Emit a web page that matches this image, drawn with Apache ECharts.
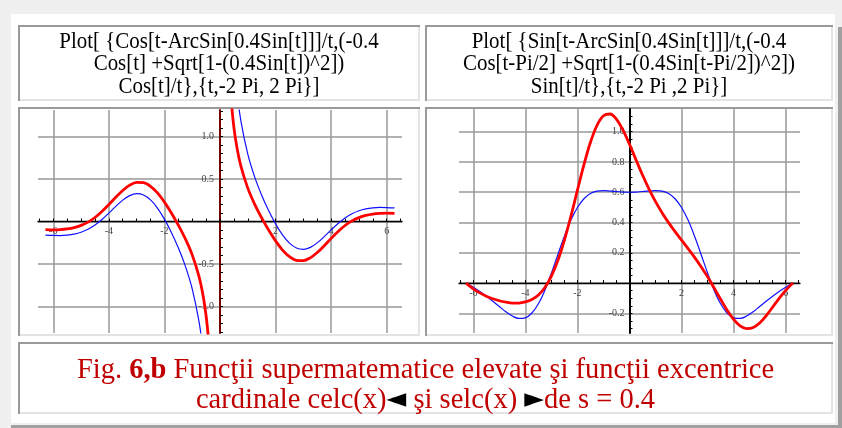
<!DOCTYPE html>
<html>
<head>
<meta charset="utf-8">
<script src="https://cdn.jsdelivr.net/npm/echarts@6/dist/echarts.min.js"></script>
<style>
html, body { margin: 0; padding: 0; background: #f0f0f0; }
#main { width: 842px; height: 428px; }
</style>
</head>
<body>
<div id="main"></div>
<script>
// celc(x) panel: t values and both curves (null at t = 0 breaks the line)
var tCelc = [-6.28, -6, -5.75, -5.5, -5.25, -5, -4.75, -4.5, -4.25, -4, -3.75, -3.5, -3.25, -3,
	-2.75, -2.5, -2.25, -2, -1.75, -1.5, -1.25, -1, -0.75, -0.6, -0.5, -0.4, 0,
	0.4, 0.5, 0.6, 0.75, 1, 1.25, 1.5, 1.75, 2, 2.25, 2.5, 2.75, 3, 3.25, 3.5, 3.75,
	4, 4.25, 4.5, 4.75, 5, 5.25, 5.5, 5.75, 6, 6.28];
var celcBlue = [-0.159, -0.164, -0.165, -0.160, -0.148, -0.126, -0.091, -0.042, 0.023, 0.099, 0.178, 0.251, 0.304, 0.327,
	0.311, 0.254, 0.158, 0.028, -0.128, -0.309, -0.522, -0.792, -1.186, -1.553, -1.907, -2.426, null,
	2.426, 1.907, 1.553, 1.186, 0.792, 0.522, 0.309, 0.128, -0.028, -0.158, -0.254, -0.311, -0.327, -0.304, -0.251, -0.178,
	-0.099, -0.023, 0.042, 0.091, 0.126, 0.148, 0.160, 0.165, 0.164, 0.159];
var celcRed = [-0.096, -0.098, -0.095, -0.087, -0.072, -0.046, -0.007, 0.047, 0.117, 0.198, 0.285, 0.365, 0.427, 0.460,
	0.456, 0.414, 0.336, 0.228, 0.101, -0.042, -0.202, -0.392, -0.653, -0.886, -1.107, -1.426, null,
	1.426, 1.107, 0.886, 0.653, 0.392, 0.202, 0.042, -0.101, -0.228, -0.336, -0.414, -0.456, -0.460, -0.427, -0.365, -0.285,
	-0.198, -0.117, -0.047, 0.007, 0.046, 0.072, 0.087, 0.095, 0.098, 0.096];

// selc(x) panel
var tSelc = [-6.28, -6, -5.75, -5.5, -5.25, -5, -4.75, -4.5, -4.25, -4, -3.75, -3.5, -3.25, -3,
	-2.75, -2.5, -2.25, -2, -1.75, -1.5, -1.25, -1, -0.75, -0.5, -0.25, 0,
	0.25, 0.5, 0.75, 1, 1.25, 1.5, 1.75, 2, 2.25, 2.5, 2.75, 3, 3.25, 3.5, 3.75,
	4, 4.25, 4.5, 4.75, 5, 5.25, 5.5, 5.75, 6, 6.28];
var selcBlue = [0.000, -0.028, -0.056, -0.087, -0.120, -0.155, -0.190, -0.218, -0.234, -0.230, -0.198, -0.137, -0.047, 0.066,
	0.189, 0.309, 0.416, 0.499, 0.557, 0.591, 0.607, 0.611, 0.608, 0.605, 0.601, 0.600,
	0.601, 0.605, 0.608, 0.611, 0.607, 0.591, 0.557, 0.499, 0.416, 0.309, 0.189, 0.066, -0.047, -0.137, -0.198,
	-0.230, -0.234, -0.218, -0.190, -0.155, -0.120, -0.087, -0.056, -0.028, 0.000];
var selcRed = [0.000, -0.038, -0.065, -0.087, -0.104, -0.117, -0.126, -0.132, -0.132, -0.125, -0.109, -0.079, -0.029, 0.046,
	0.150, 0.284, 0.442, 0.614, 0.782, 0.930, 1.041, 1.105, 1.117, 1.082, 1.010, 0.917,
	0.814, 0.714, 0.621, 0.538, 0.465, 0.399, 0.340, 0.283, 0.227, 0.170, 0.108, 0.041, -0.032, -0.107, -0.179,
	-0.240, -0.283, -0.301, -0.294, -0.264, -0.216, -0.159, -0.101, -0.048, 0.000];

// ticks and labels
var xGridVals = [-6, -4, -2, 0, 2, 4, 6];
var xLabelVals = [-6, -4, -2, 2, 4, 6];
var xTickVals = [-6.5, -6, -5.5, -5, -4.5, -4, -3.5, -3, -2.5, -2, -1.5, -1, -0.5, 0,
	0.5, 1, 1.5, 2, 2.5, 3, 3.5, 4, 4.5, 5, 5.5, 6, 6.5];
var celcYGrid = [-1, -0.5, 0, 0.5, 1];
var celcYLabels = [-1, -0.5, 0.5, 1];
var celcYTicks = [-1.3, -1.2, -1.1, -1, -0.9, -0.8, -0.7, -0.6, -0.5, -0.4, -0.3, -0.2, -0.1, 0,
	0.1, 0.2, 0.3, 0.4, 0.5, 0.6, 0.7, 0.8, 0.9, 1, 1.1, 1.2, 1.3];
var selcYGrid = [-0.2, 0, 0.2, 0.4, 0.6, 0.8, 1];
var selcYLabels = [-0.2, 0.2, 0.4, 0.6, 0.8, 1];
var selcYTicks = [-0.3, -0.25, -0.2, -0.15, -0.1, -0.05, 0, 0.05, 0.1, 0.15, 0.2, 0.25, 0.3, 0.35,
	0.4, 0.45, 0.5, 0.55, 0.6, 0.65, 0.7, 0.75, 0.8, 0.85, 0.9, 0.95, 1, 1.05, 1.1];

var titleCelc = 'Plot[ {Cos[t-ArcSin[0.4Sin[t]]]/t,(-0.4\nCos[t] +Sqrt[1-(0.4Sin[t])^2])\nCos[t]/t},{t,-2 Pi, 2 Pi}]';
var titleSelc = 'Plot[ {Sin[t-ArcSin[0.4Sin[t]]]/t,(-0.4\nCos[t-Pi/2] +Sqrt[1-(0.4Sin[t-Pi/2])^2])\nSin[t]/t},{t,-2 Pi ,2 Pi}]';

function zip(xs, ys) {
	var out = [];
	for (var i = 0; i < xs.length; i++) {
		out.push([xs[i], ys[i] === null ? '-' : ys[i]]);
	}
	return out;
}

function fmt1(v) {
	return v.toFixed(1);
}
function fmtInt(v) {
	return String(v);
}

var gridLine = { show: true, lineStyle: { color: '#999', width: 1.5 } };
var tickFont = { fontFamily: 'Liberation Serif', fontSize: 10, color: '#444' };

// axis that only draws grid lines
function gridAxis(gi, min, max, vals, pos) {
	return {
		type: 'value', gridIndex: gi, min: min, max: max, position: pos,
		axisLine: { show: false, onZero: false },
		axisTick: { show: false, customValues: vals },
		axisLabel: { show: false, customValues: vals },
		splitLine: gridLine
	};
}

// x axis drawn through y = 0 (moved there with offset)
function xMainAxis(gi, min, max, offset) {
	return {
		type: 'value', gridIndex: gi, min: min, max: max, position: 'bottom', offset: offset,
		axisLine: { show: true, onZero: false, lineStyle: { color: '#000', width: 1.3 } },
		axisTick: { show: true, inside: true, length: 3, customValues: xTickVals, lineStyle: { color: '#000', width: 1 } },
		axisLabel: Object.assign({ customValues: xLabelVals, margin: 5, formatter: fmtInt }, tickFont),
		splitLine: { show: false }
	};
}

function yMainAxis(gi, min, max, offset, ticks, labels, color, margin) {
	return {
		type: 'value', gridIndex: gi, min: min, max: max, position: 'left', offset: offset,
		axisLine: { show: true, onZero: false, lineStyle: { color: color, width: 2 } },
		axisTick: { show: true, inside: true, length: 3, customValues: ticks, lineStyle: { color: '#000', width: 1 } },
		axisLabel: Object.assign({ customValues: labels, margin: margin, formatter: fmt1 }, tickFont),
		splitLine: { show: false }
	};
}

// cell frames: dark top/left, light bottom/right
function frame(x, y, w, h) {
	var dark = '#9a9a9a', light = '#e4e4e4';
	return [
		{ type: 'rect', shape: { x: x, y: y, width: w, height: 2 }, style: { fill: dark } },
		{ type: 'rect', shape: { x: x, y: y, width: 2, height: h }, style: { fill: dark } },
		{ type: 'rect', shape: { x: x + 2, y: y + h - 2, width: w - 2, height: 2 }, style: { fill: light } },
		{ type: 'rect', shape: { x: x + w - 2, y: y + 2, width: 2, height: h - 2 }, style: { fill: light } }
	];
}

function titleText(txt, cx) {
	return {
		type: 'text', x: cx, y: 64, scaleX: 0.91,
		style: {
			text: txt, x: 0, y: 0, fill: '#000',
			font: '23px "Liberation Serif"', textAlign: 'center', textVerticalAlign: 'middle', lineHeight: 22.5
		}
	};
}

var decor = [
	{ type: 'rect', shape: { x: 0, y: 0, width: 842, height: 14 }, style: { fill: '#f0f0f0' } },
	{ type: 'rect', shape: { x: 0, y: 0, width: 11, height: 428 }, style: { fill: '#f0f0f0' } },
	{ type: 'rect', shape: { x: 835, y: 0, width: 7, height: 428 }, style: { fill: '#f0f0f0' } },
	{ type: 'rect', shape: { x: 0, y: 423, width: 842, height: 5 }, style: { fill: '#f0f0f0' } },
	{ type: 'rect', shape: { x: 838, y: 27, width: 4, height: 401 }, style: { fill: '#a0a0a0' } },
	{ type: 'rect', shape: { x: 11, y: 425, width: 831, height: 3 }, style: { fill: '#a0a0a0' } }
]
	.concat(frame(18, 25, 402, 76))
	.concat(frame(425, 25, 408, 76))
	.concat(frame(18, 107, 402, 229))
	.concat(frame(425, 107, 408, 229))
	.concat(frame(18, 342, 815, 72));

decor.push(titleText(titleCelc, 219));
decor.push(titleText(titleSelc, 629));
decor.push({
	type: 'text', x: 425.5, y: 385, scaleX: 0.95,
	style: {
		text: '{r|Fig. }{b|6,b}{r| Funcţii supermatematice elevate şi funcţii excentrice}\n' +
			'{r|cardinale celc(x)}{k|◄}{r| şi selc(x) }{k|►}{r|de s = 0.4}',
		x: 0, y: 0, textAlign: 'center', textVerticalAlign: 'middle',
		rich: {
			r: { fill: '#c00000', fontSize: 30, fontFamily: 'Liberation Serif', lineHeight: 30 },
			b: { fill: '#c00000', fontSize: 30, fontFamily: 'Liberation Serif', fontWeight: 'bold', lineHeight: 30 },
			k: { fill: '#000', fontSize: 27, fontFamily: 'DejaVu Sans', lineHeight: 30 }
		}
	}
});

var chart = echarts.init(document.getElementById('main'));
var option = {
	animation: false,
	backgroundColor: '#fff',
	grid: [
		{ left: 38, top: 110, width: 364, height: 223 },
		{ left: 459, top: 109, width: 341, height: 224 }
	],
	xAxis: [
		gridAxis(0, -6.55, 6.55, xGridVals, 'bottom'),
		xMainAxis(0, -6.55, 6.55, -111.5),
		gridAxis(1, -6.55, 6.55, xGridVals, 'bottom'),
		xMainAxis(1, -6.55, 6.55, -49.95)
	],
	yAxis: [
		gridAxis(0, -1.31, 1.31, celcYGrid, 'left'),
		yMainAxis(0, -1.31, 1.31, -182, celcYTicks, celcYLabels, '#7a0000', 6),
		gridAxis(1, -0.33, 1.15, selcYGrid, 'left'),
		yMainAxis(1, -0.33, 1.15, -170.5, selcYTicks, selcYLabels, '#000', 5)
	],
	graphic: decor,
	series: [
		{
			type: 'line', xAxisIndex: 1, yAxisIndex: 1, data: zip(tCelc, celcBlue),
			showSymbol: false, smooth: 0.35, connectNulls: false,
			lineStyle: { color: '#1010ff', width: 1.2 }
		},
		{
			type: 'line', xAxisIndex: 1, yAxisIndex: 1, data: zip(tCelc, celcRed),
			showSymbol: false, smooth: 0.35, connectNulls: false,
			lineStyle: { color: '#ff0000', width: 2.8 }
		},
		{
			type: 'line', xAxisIndex: 3, yAxisIndex: 3, data: zip(tSelc, selcBlue),
			showSymbol: false, smooth: 0.35,
			lineStyle: { color: '#1010ff', width: 1.2 }
		},
		{
			type: 'line', xAxisIndex: 3, yAxisIndex: 3, data: zip(tSelc, selcRed),
			showSymbol: false, smooth: 0.35,
			lineStyle: { color: '#ff0000', width: 2.8 }
		}
	]
};
chart.setOption(option);
</script>
</body>
</html>
